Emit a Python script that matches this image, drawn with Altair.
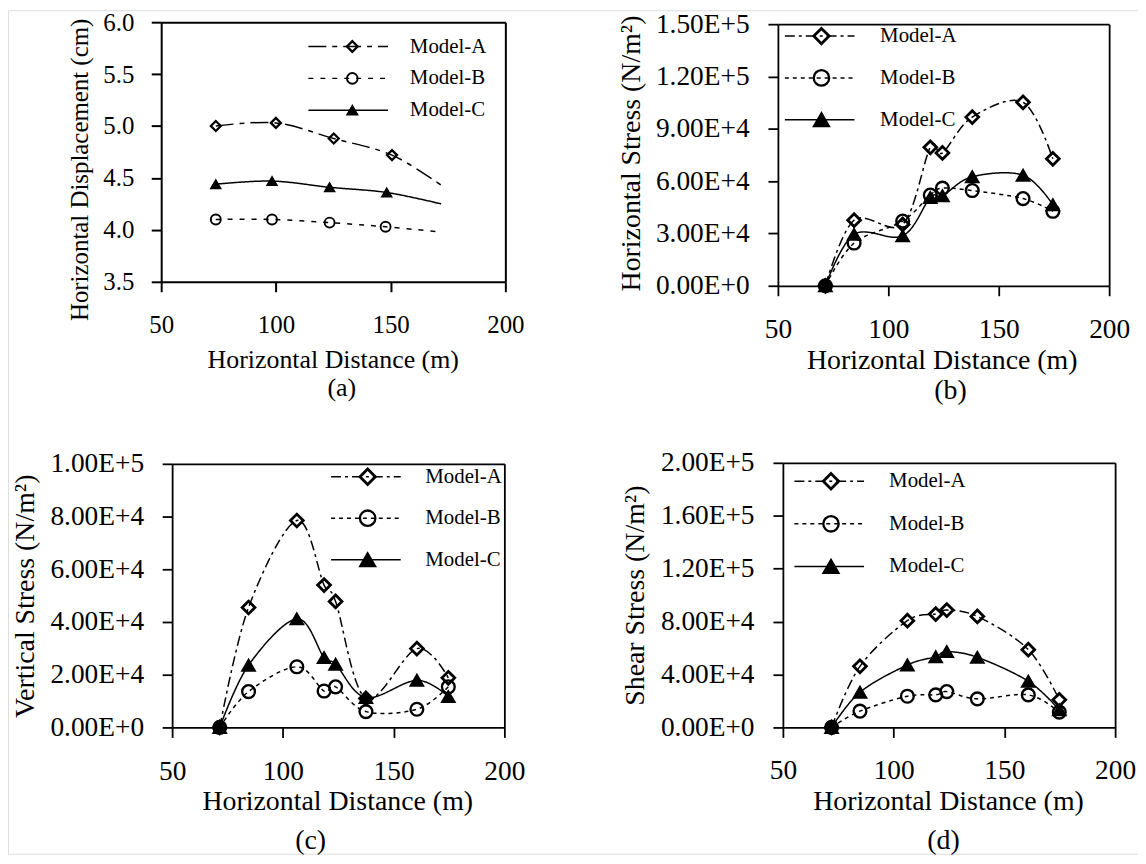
import math
import altair as alt
import pandas as pd

FONT = "Liberation Serif"
MODELS = ["Model-A", "Model-B", "Model-C"]
X_TICKS = [50, 100, 150, 200]

# ---------------- (a) Horizontal displacement (cm)
a_x_A = [73.8, 100.0, 125.2, 150.6, 172.0]
a_y_A = [5.00, 5.03, 4.88, 4.72, 4.43]
a_x_B = [73.8, 98.3, 123.4, 147.8, 171.2]
a_y_B = [4.10, 4.10, 4.07, 4.03, 3.98]
a_x_C = [73.8, 98.3, 123.4, 148.3, 172.0]
a_y_C = [4.44, 4.47, 4.41, 4.36, 4.25]
a_y_ticks = [3.5, 4.0, 4.5, 5.0, 5.5, 6.0]
a_markers = 4  # the last point of each curve carries no marker

# ---------------- (b) Horizontal stress (N/m2)
b_x = [71.5, 84.5, 106.5, 119.0, 124.5, 138.0, 161.0, 174.5]
b_A = [0, 37600, 35200, 79400, 76200, 96700, 105200, 72800]
b_B = [0, 24500, 37100, 52000, 56000, 54600, 50000, 42700]
b_C = [0, 29500, 28600, 50600, 51600, 62500, 63400, 46500]
b_y_ticks = [0, 30000, 60000, 90000, 120000, 150000]

# ---------------- (c) Vertical stress (N/m2)
c_x = [71.5, 84.5, 106.3, 118.6, 123.8, 137.5, 160.5, 174.7]
c_A = [0, 45500, 78500, 54000, 47800, 11000, 29900, 18800]
c_B = [0, 13600, 23000, 13800, 15400, 6000, 6900, 15400]
c_C = [0, 23600, 41200, 26500, 24000, 11300, 17900, 11700]
c_y_ticks = [0, 20000, 40000, 60000, 80000, 100000]

# ---------------- (d) Shear stress (N/m2)
d_x = [72.0, 84.8, 106.2, 119.0, 124.0, 137.8, 160.8, 174.8]
d_A = [0, 46200, 80700, 85700, 88700, 83900, 58800, 20900]
d_B = [0, 12300, 23600, 24600, 27100, 21600, 24600, 11600]
d_C = [0, 26600, 47200, 53500, 57300, 53000, 34900, 13300]
d_y_ticks = [0, 40000, 80000, 120000, 160000, 200000]


def frame(series):
    rows = []
    for model, (xs, ys) in zip(MODELS, series):
        for i, (xv, yv) in enumerate(zip(xs, ys)):
            rows.append({"model": model, "x": xv, "y": yv, "i": i})
    return pd.DataFrame(rows)


a_df = frame([(a_x_A, a_y_A), (a_x_B, a_y_B), (a_x_C, a_y_C)])
a_pts = a_df[a_df["i"] < a_markers]
b_df = frame([(b_x, b_A), (b_x, b_B), (b_x, b_C)])
c_df = frame([(c_x, c_A), (c_x, c_B), (c_x, c_C)])
d_df = frame([(d_x, d_A), (d_x, d_B), (d_x, d_C)])

W, H = 1136, 848
SCI = "upper(format(datum.value, '.2e'))"
ROW_H = 21

panels = [
    dict(line=a_df, pts=a_pts, x0=154, x1=500, yt=12, yb=273, ydom=[3.5, 6.0], yvals=a_y_ticks,
         fmt=".1f", lfs=25, tfs=26, ytfs=25, xlp=21, ylp=17.5, dw=2,
         xtx=326.5, xty=351, ytitle="Horizontal Displacement (cm)", ytx=71.5, yty=160,
         cap="(a)", capx=335, capy=379, capfs=26,
         lx=301, ly=26, llen=80, loff=21, rp=10, legfs=21,
         dashes=[[18, 6, 5, 6], [5, 7], [1, 0]], msize=100, mstroke=[2.3, 1.5, 1.2], lss=115),
    dict(line=b_df, pts=b_df, x0=774, x1=1107, yt=14, yb=277, ydom=[0, 150000], yvals=b_y_ticks,
         fmt=None, lfs=27.5, tfs=28, ytfs=28, xlp=20, ylp=19, dw=1.8,
         xtx=938.7, xty=352, ytitle="Horizontal Stress (N/m²)", ytx=627, yty=143.5,
         cap="(b)", capx=947, capy=382, capfs=28,
         lx=780, ly=15.5, llen=70, loff=24.7, rp=20, legfs=21,
         dashes=[[10, 4, 3, 4], [4, 4], [1, 0]], msize=165, mstroke=[2.8, 1.9, 1.5], lss=240),
    dict(line=c_df, pts=c_df, x0=165, x1=499, yt=456, yb=721, ydom=[0, 100000], yvals=c_y_ticks,
         fmt=None, lfs=27.5, tfs=28, ytfs=28, xlp=20.6, ylp=18.7, dw=1.8,
         xtx=331, xty=796, ytitle="Vertical Stress (N/m²)", ytx=18, yty=588.6,
         cap="(c)", capx=303.7, capy=835, capfs=28,
         lx=323.8, ly=458.5, llen=70, loff=23.7, rp=19.7, legfs=21,
         dashes=[[10, 4, 3, 4], [4, 4], [1, 0]], msize=165, mstroke=[2.8, 1.9, 1.5], lss=240),
    dict(line=d_df, pts=d_df, x0=779, x1=1113, yt=455, yb=721, ydom=[0, 200000], yvals=d_y_ticks,
         fmt=None, lfs=27.5, tfs=28, ytfs=28, xlp=19.8, ylp=19, dw=1.8,
         xtx=945, xty=796, ytitle="Shear Stress (N/m²)", ytx=631, yty=588,
         cap="(d)", capx=940, capy=835, capfs=28,
         lx=789.6, ly=463, llen=70, loff=24.2, rp=20.8, legfs=21,
         dashes=[[10, 4, 3, 4], [4, 4], [1, 0]], msize=165, mstroke=[2.8, 1.9, 1.5], lss=240),
]


def build(g):
    xsc = alt.Scale(domain=[50, 200], range=[g["x0"], g["x1"]], nice=False, zero=False)
    ysc = alt.Scale(domain=g["ydom"], range=[g["yb"], g["yt"]], nice=False, zero=False)
    common = dict(grid=False, domainColor="black", domainWidth=g["dw"], tickColor="black",
                  tickWidth=g["dw"], labelFont=FONT, labelColor="black", titleFont=FONT,
                  titleColor="black", titleFontWeight="normal")
    x_bottom = alt.Axis(orient="bottom", offset=g["yb"] - H, values=X_TICKS, tickSize=10,
                        labelFontSize=g["lfs"], labelPadding=g["xlp"], labelFlush=False,
                        labelOverlap=False, title="Horizontal Distance (m)",
                        titleFontSize=g["tfs"], titleX=g["xtx"], titleY=g["xty"] - g["yb"],
                        titleAlign="center", titleBaseline="middle", titleAngle=0, **common)
    ykw = dict(orient="left", offset=-g["x0"], values=g["yvals"], tickSize=10,
               labelFontSize=g["lfs"], labelPadding=g["ylp"], labelOverlap=False,
               title=g["ytitle"], titleFontSize=g["ytfs"], titleX=g["ytx"] - g["x0"],
               titleY=g["yty"], titleAlign="center", titleBaseline="middle", titleAngle=270,
               **common)
    if g["fmt"]:
        ykw["format"] = g["fmt"]
    else:
        ykw["labelExpr"] = SCI
    y_left = alt.Axis(**ykw)
    x_top = alt.Axis(orient="top", offset=-g["yt"], domain=True, ticks=False, labels=False,
                     title=g["cap"], titleFontSize=g["capfs"], titleX=g["capx"],
                     titleY=g["capy"] - g["yt"], titleAlign="center", titleBaseline="middle",
                     titleAngle=0, **common)
    y_right = alt.Axis(orient="right", offset=g["x1"] - W, domain=True, ticks=False,
                       labels=False, title=None, **common)

    line_leg = alt.Legend(orient="none", legendX=g["lx"], legendY=g["ly"], direction="vertical",
                          title=None, padding=0, symbolType="stroke", symbolSize=g["llen"] ** 2,
                          symbolStrokeWidth=1.5, symbolStrokeColor="black", symbolOffset=0,
                          labelFont=FONT, labelFontSize=g["legfs"], labelColor="black",
                          labelOffset=g["loff"], rowPadding=g["rp"], clipHeight=ROW_H)
    msz = math.sqrt(g["lss"])
    shape_leg = alt.Legend(orient="none", legendX=g["lx"] + g["llen"] / 2 - msz / 2,
                           legendY=g["ly"], direction="vertical", title=None, padding=0,
                           symbolSize=g["lss"], symbolOffset=0, symbolOpacity=1,
                           labelExpr="''", labelFont=FONT, labelFontSize=g["legfs"],
                           labelOffset=0, rowPadding=g["rp"], clipHeight=ROW_H)

    line = alt.Chart(g["line"]).mark_line(
        interpolate="cardinal", tension=0, color="black", strokeWidth=1.5
    ).encode(
        x=alt.X("x:Q", scale=xsc, axis=x_bottom),
        y=alt.Y("y:Q", scale=ysc, axis=y_left),
        strokeDash=alt.StrokeDash("model:N", scale=alt.Scale(domain=MODELS, range=g["dashes"]),
                                  legend=line_leg),
        order=alt.Order("x:Q"),
    )
    pts = alt.Chart(g["pts"]).mark_point(opacity=1, size=g["msize"]).encode(
        x=alt.X("x:Q", scale=xsc, axis=x_top),
        y=alt.Y("y:Q", scale=ysc, axis=y_right),
        shape=alt.Shape("model:N", scale=alt.Scale(domain=MODELS,
                        range=["diamond", "circle", "triangle-up"]), legend=shape_leg),
        fill=alt.Fill("model:N", scale=alt.Scale(domain=MODELS,
                      range=["transparent", "transparent", "black"]), legend=shape_leg),
        stroke=alt.Stroke("model:N", scale=alt.Scale(domain=MODELS,
                          range=["black", "black", "black"]), legend=shape_leg),
        strokeWidth=alt.StrokeWidth("model:N", scale=alt.Scale(domain=MODELS,
                                    range=g["mstroke"]), legend=shape_leg),
    )
    return [line, pts]


layers = []
for g in panels:
    layers += build(g)

chart = alt.layer(*layers).resolve_scale(
    x="independent", y="independent", strokeDash="independent", shape="independent",
    fill="independent", stroke="independent", strokeWidth="independent"
).resolve_axis(x="independent", y="independent").resolve_legend(
    strokeDash="independent", shape="independent", fill="independent", stroke="independent",
    strokeWidth="independent"
).properties(
    width=W, height=H, padding=0, autosize=alt.AutoSizeParams(type="none")
).configure_view(stroke=None).configure(font=FONT, background="white")

chart.save("out.html", embed_options={"renderer": "svg", "actions": False})
